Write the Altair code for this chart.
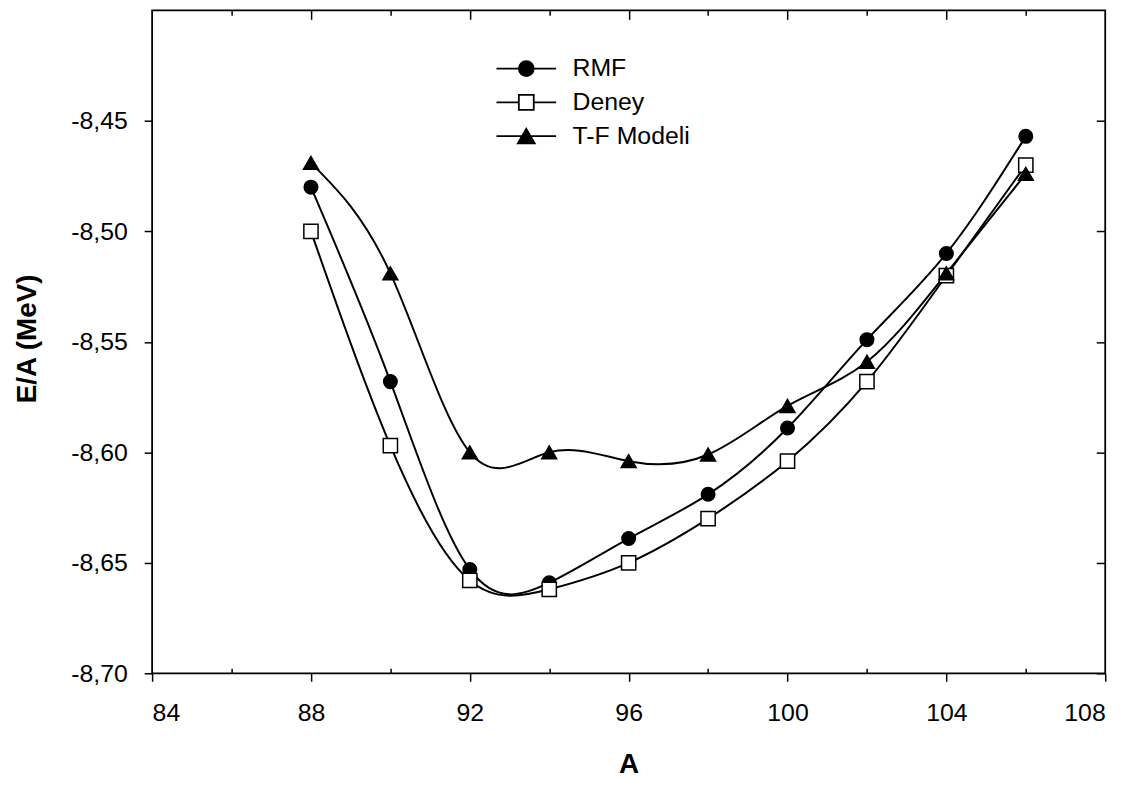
import altair as alt
import pandas as pd

# ---- data ----
A = [88, 90, 92, 94, 96, 98, 100, 102, 104, 106]
rmf = [-8.480, -8.568, -8.653, -8.659, -8.639, -8.619, -8.589, -8.549, -8.510, -8.457]
deney = [-8.500, -8.597, -8.658, -8.662, -8.650, -8.630, -8.604, -8.568, -8.520, -8.470]
tf = [-8.469, -8.519, -8.600, -8.600, -8.604, -8.601, -8.579, -8.559, -8.519, -8.474]
series_names = ["RMF", "Deney", "T-F Modeli"]
x_ticks = [84, 88, 92, 96, 100, 104, 108]
x_top_major = [88, 92, 96, 100, 104]
x_minor = [86, 90, 94, 98, 102, 106]
y_ticks = [-8.70, -8.65, -8.60, -8.55, -8.50, -8.45]

df = pd.DataFrame({
    "A": A * 3,
    "E": rmf + deney + tf,
    "series": [s for s in series_names for _ in A],
})

FONT = "Liberation Sans"
xs = alt.Scale(domain=[84, 108], nice=False, zero=False)
ys = alt.Scale(domain=[-8.70, -8.40], nice=False, zero=False)
ylabel = "(datum.value < 0 ? '-' : '') + replace(format(abs(datum.value), '.2f'), '.', ',')"

base = alt.Chart(df)

# main lines with the labelled axes
lines = base.mark_line(interpolate="natural", color="black", strokeWidth=2).encode(
    x=alt.X("A:Q", scale=xs, axis=alt.Axis(
        orient="bottom", values=x_ticks, tickSize=8, labelPadding=20,
        title="A", titleFontSize=28, titleFontWeight="bold", titleFont=FONT,
        titleX=479.5, titleY=92, titleBaseline="middle", titleAlign="center")),
    y=alt.Y("E:Q", scale=ys, axis=alt.Axis(
        orient="left", values=y_ticks, labelExpr=ylabel, tickSize=8, labelPadding=17,
        title="E/A (MeV)", titleFontSize=28, titleFontWeight="bold", titleFont=FONT,
        titleX=-125, titleY=330, titleAngle=-90, titleBaseline="middle", titleAlign="center")),
    detail="series:N",
)

def inv(xaxis, yaxis):
    return base.mark_point(opacity=0).encode(
        x=alt.X("A:Q", scale=xs, axis=xaxis),
        y=alt.Y("E:Q", scale=ys, axis=yaxis),
    )

# inward minor ticks on bottom, inward ticks on right
ax2 = inv(
    alt.Axis(orient="bottom", values=x_minor, tickSize=5, offset=-5, labels=False, domain=False, title=None),
    alt.Axis(orient="right", values=y_ticks, tickSize=9, offset=-9, labels=False, domain=False, title=None),
)
# top inward majors / minors
ax3 = inv(
    alt.Axis(orient="top", values=x_top_major, tickSize=9, offset=-9, labels=False, domain=False, title=None),
    None,
)
ax4 = inv(
    alt.Axis(orient="top", values=x_minor, tickSize=5, offset=-5, labels=False, domain=False, title=None),
    None,
)

points = base.mark_point(filled=True, stroke="black", strokeWidth=1.5, opacity=1).encode(
    x=alt.X("A:Q", scale=xs, axis=None),
    y=alt.Y("E:Q", scale=ys, axis=None),
    shape=alt.Shape("series:N", scale=alt.Scale(domain=series_names, range=["circle", "square", "triangle-up"]), legend=None),
    fill=alt.Fill("series:N", scale=alt.Scale(domain=series_names, range=["black", "white", "black"]), legend=None),
    size=alt.Size("series:O", scale=alt.Scale(domain=series_names, range=[185, 225, 289]), legend=None),
)

legend_paths = [
    "M-3,0L3,0M0.75,0A0.75,0.75,0,1,1,-0.75,0A0.75,0.75,0,1,1,0.75,0Z",
    "M-3,0L-0.75,0M0.75,0L3,0M-0.75,-0.75L0.75,-0.75L0.75,0.75L-0.75,0.75Z",
    "M-3,0L3,0M0,-0.73L0.85,0.73L-0.85,0.73Z",
]
leg = alt.Legend(
    orient="none", legendX=364, legendY=46, title=None,
    symbolSize=400, symbolStrokeWidth=1.8, symbolStrokeColor="black", symbolOpacity=1,
    labelFont=FONT, labelFontSize=25, labelColor="black", labelOffset=34, labelLimit=400,
    rowPadding=8,
)
legend_layer = base.mark_point(filled=True, opacity=0, strokeWidth=1.8).encode(
    x=alt.X("A:Q", scale=xs, axis=None),
    y=alt.Y("E:Q", scale=ys, axis=None),
    color=alt.Color("series:N", scale=alt.Scale(domain=series_names, range=["black", "white", "black"]), legend=leg),
    stroke=alt.Stroke("series:N", scale=alt.Scale(domain=series_names, range=["black", "black", "black"]), legend=leg),
    shape=alt.Shape("series:N", scale=alt.Scale(domain=series_names, range=legend_paths), legend=leg),
)

chart = alt.layer(lines, ax2, ax3, ax4, points, legend_layer).resolve_axis(
    x="independent", y="independent"
).resolve_scale(
    shape="independent", color="independent", stroke="independent"
).properties(
    width=959, height=667,
    padding={"left": 145, "top": 0, "right": 35, "bottom": 112},
    autosize=alt.AutoSizeParams(type="none"),
).configure_view(
    stroke="black", strokeWidth=1.8
).configure_axis(
    grid=False, domain=False, tickColor="black", tickWidth=1.5,
    labelFont=FONT, labelFontSize=25, labelColor="black", titleColor="black",
)

chart.save("out.html", embed_options={"renderer": "svg", "actions": False})
